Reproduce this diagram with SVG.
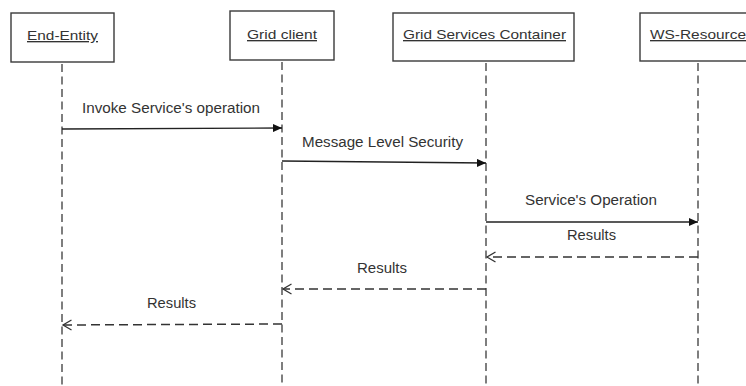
<svg xmlns="http://www.w3.org/2000/svg" width="746" height="386" viewBox="0 0 746 386">
  <style>
    .box { fill: #ffffff; stroke: #3a3a3a; stroke-width: 1.4; }
    .name { font-family: "Liberation Sans", Arial, sans-serif; font-size: 13.5px; fill: #333333; text-decoration: underline; }
    .label { font-family: "Liberation Sans", Arial, sans-serif; font-size: 14px; fill: #333333; }
    .lifeline { stroke: #3a3a3a; stroke-width: 1.3; stroke-dasharray: 8 4.5; fill: none; }
    .call { stroke: #222222; stroke-width: 1.3; fill: none; marker-end: url(#solidHead); }
    .reply { stroke: #333333; stroke-width: 1.5; stroke-dasharray: 9 5; fill: none; marker-end: url(#openHead); }
  </style>
  <defs>
    <marker id="solidHead" markerUnits="userSpaceOnUse" markerWidth="10" markerHeight="8" refX="9" refY="4" orient="auto">
      <path d="M0,0 L9,4 L0,8 z" fill="#111111" stroke="none"/>
    </marker>
    <marker id="openHead" markerUnits="userSpaceOnUse" markerWidth="12" markerHeight="12" refX="9.5" refY="6" orient="auto">
      <path d="M1,1 L9.5,6 L1,11" fill="none" stroke="#333333" stroke-width="1.3" stroke-dasharray="none"/>
    </marker>
  </defs>
  <rect width="746" height="386" fill="#ffffff"/>

  <g id="end-entity">
    <rect class="box" x="11" y="13" width="103" height="49"/>
    <text class="name" x="27" y="40" textLength="71" lengthAdjust="spacingAndGlyphs">End-Entity</text>
    <line class="lifeline" x1="62" y1="64" x2="62" y2="386"/>
  </g>

  <g id="grid-client">
    <rect class="box" x="230" y="11" width="104" height="49"/>
    <text class="name" x="247" y="39" textLength="70" lengthAdjust="spacingAndGlyphs">Grid client</text>
    <line class="lifeline" x1="282" y1="62" x2="282" y2="386"/>
  </g>

  <g id="grid-services-container">
    <rect class="box" x="393" y="13" width="181" height="48"/>
    <text class="name" x="403" y="39" textLength="163" lengthAdjust="spacingAndGlyphs">Grid Services Container</text>
    <line class="lifeline" x1="486" y1="63" x2="486" y2="386"/>
  </g>

  <g id="ws-resource">
    <rect class="box" x="640" y="13" width="130" height="48"/>
    <text class="name" x="650" y="39" textLength="96" lengthAdjust="spacingAndGlyphs">WS-Resource</text>
    <line class="lifeline" x1="698" y1="63" x2="698" y2="386"/>
  </g>

  <g id="messages">
    <line class="call" x1="62" y1="129" x2="282" y2="128"/>
    <text class="label" x="82" y="113" textLength="178" lengthAdjust="spacingAndGlyphs">Invoke Service's operation</text>

    <line class="call" x1="282" y1="161" x2="486" y2="163"/>
    <text class="label" x="302" y="147" textLength="161" lengthAdjust="spacingAndGlyphs">Message Level Security</text>

    <line class="call" x1="486" y1="222" x2="698" y2="222"/>
    <text class="label" x="525" y="205" textLength="132" lengthAdjust="spacingAndGlyphs">Service's Operation</text>

    <line class="reply" x1="698" y1="257" x2="487" y2="257"/>
    <text class="label" x="567" y="240" textLength="49" lengthAdjust="spacingAndGlyphs">Results</text>

    <line class="reply" x1="486" y1="289" x2="283" y2="289"/>
    <text class="label" x="357" y="273" textLength="50" lengthAdjust="spacingAndGlyphs">Results</text>

    <line class="reply" x1="282" y1="324" x2="63" y2="325"/>
    <text class="label" x="147" y="308" textLength="49" lengthAdjust="spacingAndGlyphs">Results</text>
  </g>
</svg>
